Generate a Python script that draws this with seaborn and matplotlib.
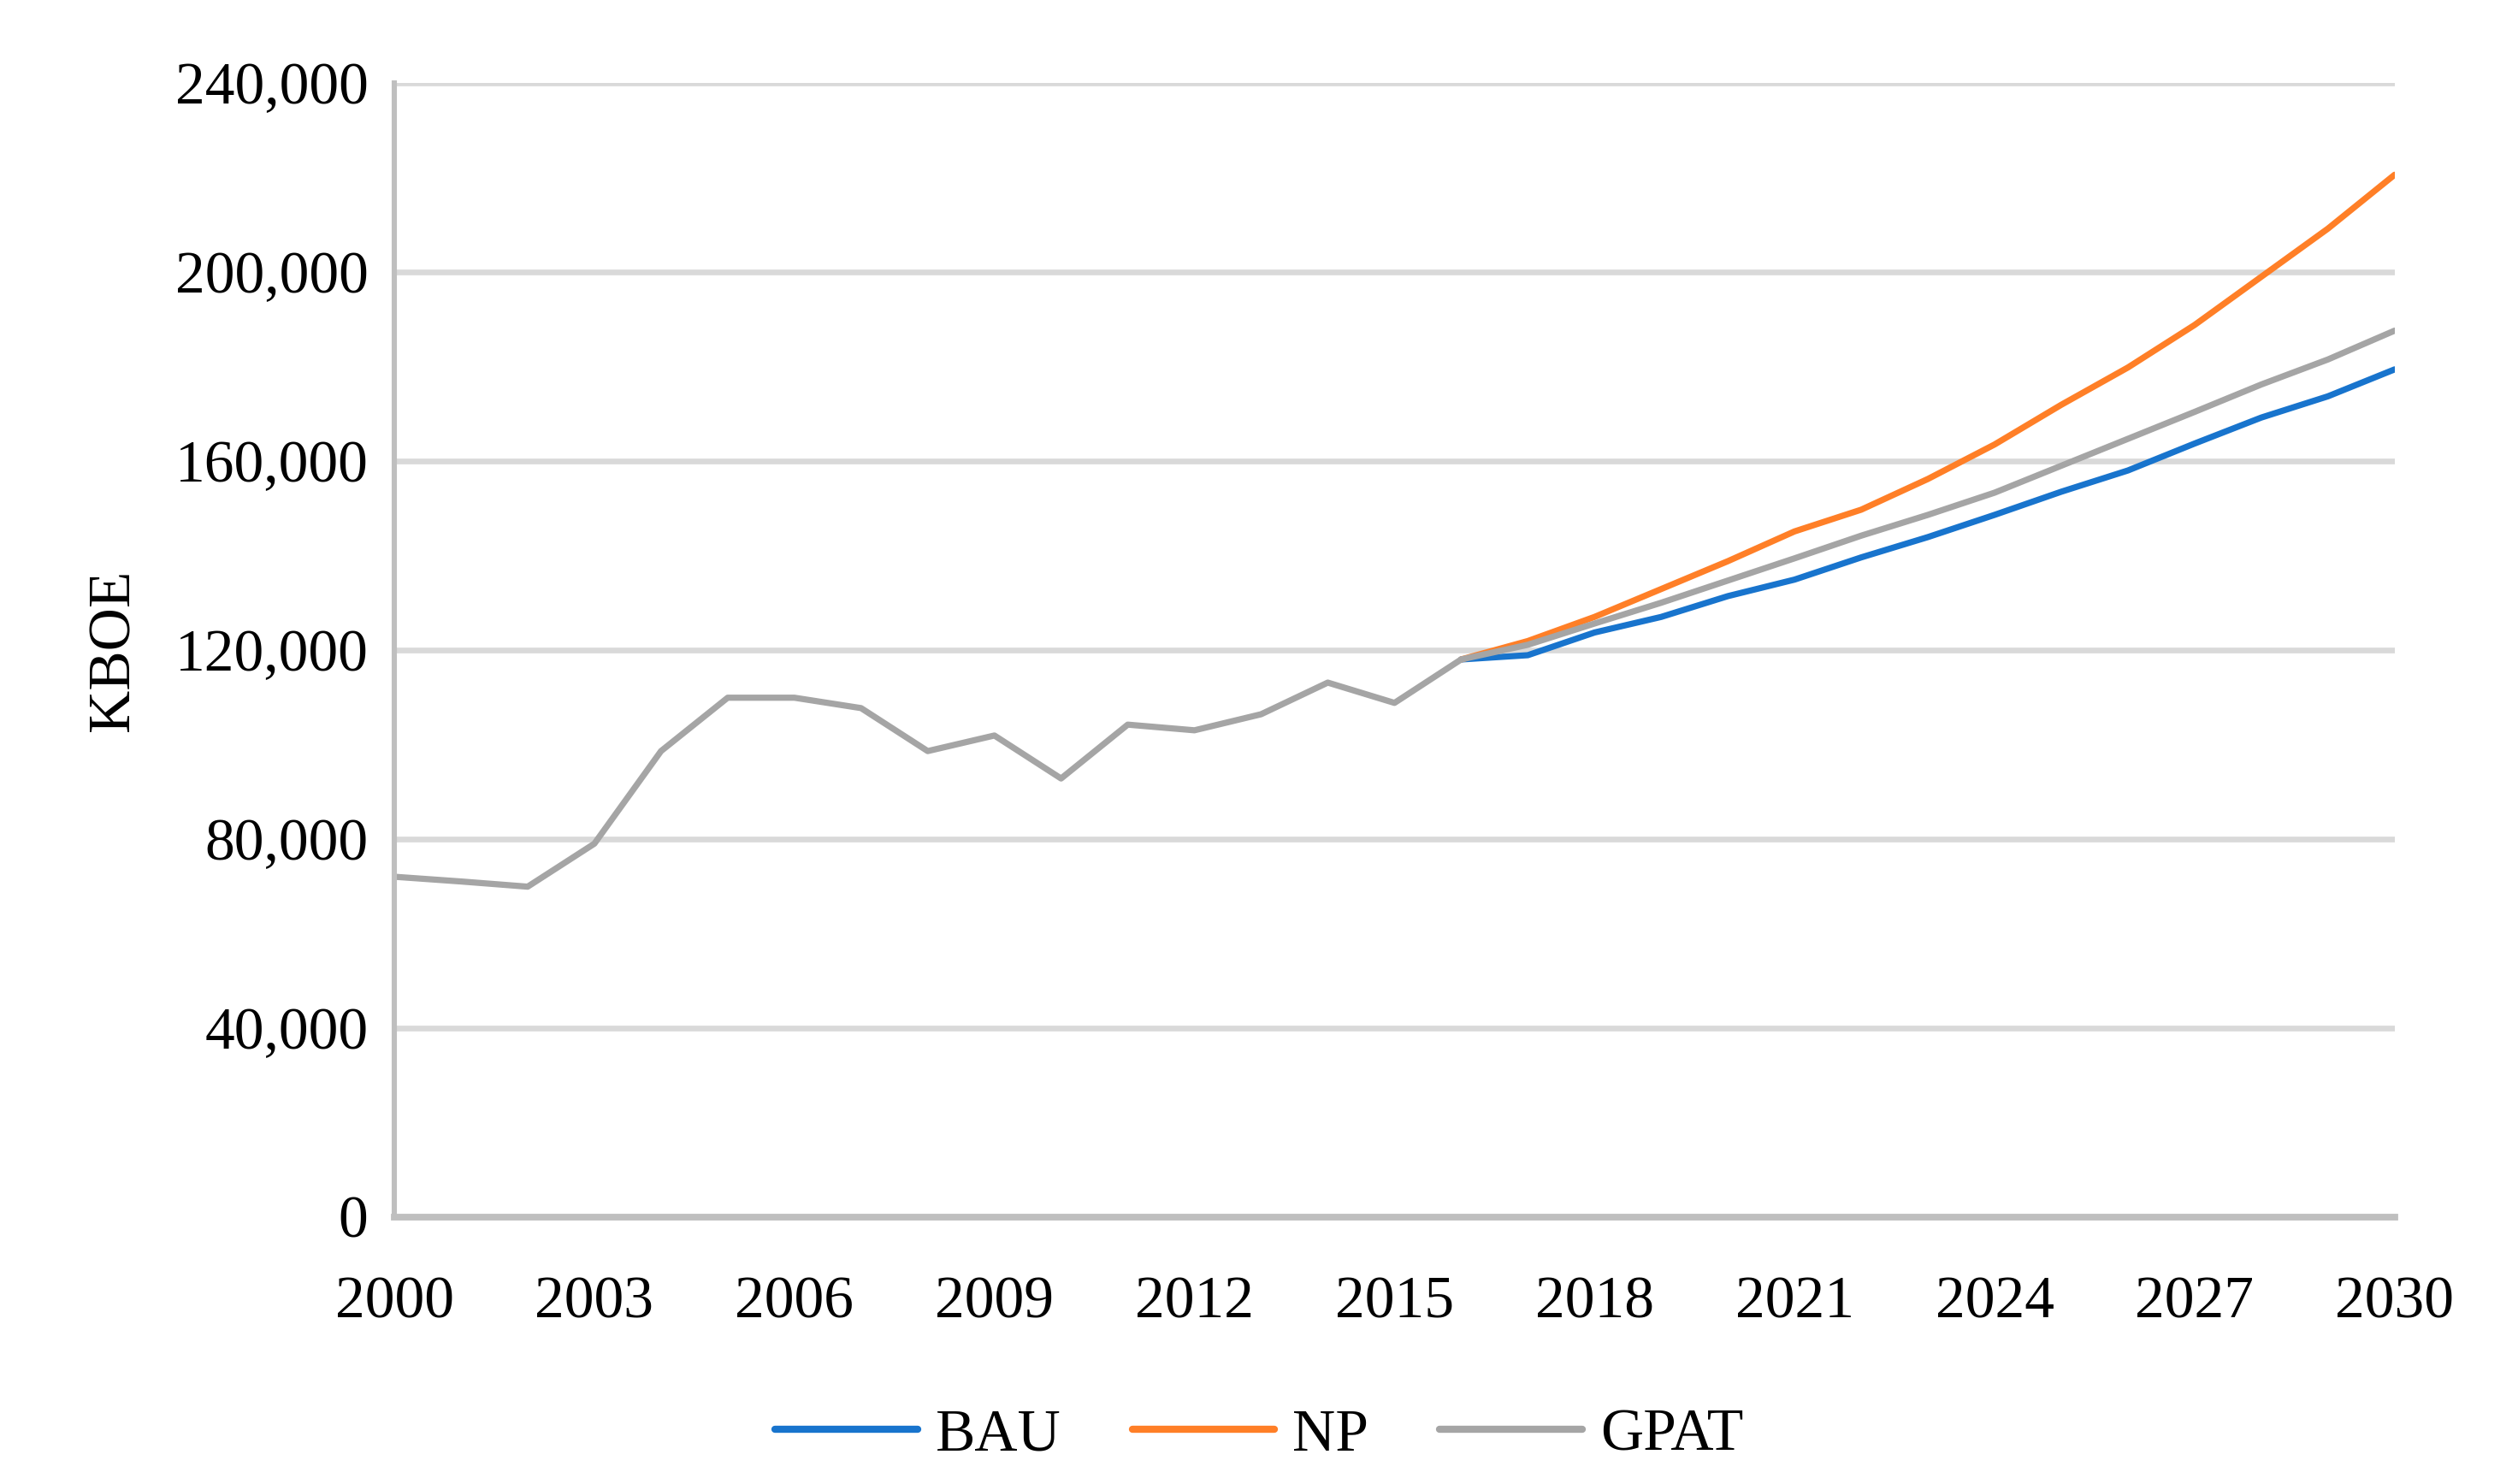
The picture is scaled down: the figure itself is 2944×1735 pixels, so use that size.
import matplotlib
matplotlib.use("Agg")
import matplotlib.pyplot as plt
import seaborn as sns
import pandas as pd
from matplotlib.ticker import FuncFormatter, FixedLocator

hist_years = list(range(2000, 2017))
hist_values = [72000, 71000, 69900, 79000, 98600, 109900, 109900, 107700, 98600,
               101900, 92800, 104200, 103000, 106400, 113100, 108800, 118000]

proj_years = list(range(2016, 2031))
bau_values = [118000, 118900, 123700, 127000, 131400, 134900, 139600, 143900,
              148600, 153500, 158000, 163700, 169200, 173700, 179400]
np_values = [118000, 121900, 127000, 132900, 138800, 145100, 149700, 156200,
             163500, 171900, 179800, 188800, 199000, 209200, 220600]
gpat_values = [118000, 121100, 125600, 130000, 134700, 139400, 144200, 148600,
               153300, 159000, 164700, 170400, 176200, 181500, 187600]

series_names = ["BAU", "NP", "GPAT"]
colors = {"BAU": "#1874CD", "NP": "#FF7F27", "GPAT": "#A5A5A5"}
x_ticks = list(range(2000, 2031, 3))
y_ticks = list(range(0, 240001, 40000))

rows = []
for y, v in zip(proj_years, bau_values):
    rows.append(("BAU", y, v))
for y, v in zip(proj_years, np_values):
    rows.append(("NP", y, v))
for y, v in zip(hist_years[:-1], hist_values[:-1]):
    rows.append(("GPAT", y, v))
for y, v in zip(proj_years, gpat_values):
    rows.append(("GPAT", y, v))
df = pd.DataFrame(rows, columns=["series", "year", "value"])

sns.set_theme(style="white")
plt.rcParams["font.family"] = ["Liberation Serif", "DejaVu Serif"]
plt.rcParams["text.color"] = "black"
plt.rcParams["axes.labelcolor"] = "black"

fig = plt.figure(figsize=(14.72, 8.675), dpi=200)
ax = fig.add_axes([0.1566, 0.180, 0.951 - 0.1566, 0.944 - 0.180])

sns.lineplot(data=df, x="year", y="value", hue="series", hue_order=series_names,
             palette=colors, linewidth=2.6, ax=ax, legend=True, sort=True,
             estimator=None)

ax.set_xlim(2000, 2030)
ax.set_ylim(0, 240000)
ax.xaxis.set_major_locator(FixedLocator(x_ticks))
ax.yaxis.set_major_locator(FixedLocator(y_ticks))
ax.yaxis.set_major_formatter(FuncFormatter(lambda v, p: f"{int(v):,}"))
ax.grid(axis="y", color="#D9D9D9", linewidth=2.4)
ax.grid(axis="x", visible=False)
ax.set_axisbelow(True)
for s in ["top", "right"]:
    ax.spines[s].set_visible(False)
ax.spines["left"].set_color("#BFBFBF")
ax.spines["left"].set_linewidth(2.2)
ax.spines["bottom"].set_color("#BFBFBF")
ax.spines["bottom"].set_linewidth(2.8)
ax.tick_params(axis="both", length=0, labelsize=25, colors="black")
ax.tick_params(axis="x", pad=25)
ax.tick_params(axis="y", pad=11)
ax.set_xlabel("")
ax.set_ylabel("KBOE", fontsize=25, labelpad=14, color="black")

handles, labels = ax.get_legend_handles_labels()
ax.get_legend().remove()
leg = fig.legend(handles, labels, loc="lower center", bbox_to_anchor=(0.5, -0.022),
                 ncol=3, frameon=False, fontsize=25, handlelength=2.4,
                 handletextpad=0.3, columnspacing=1.2, labelcolor="black")
for h in leg.get_lines():
    h.set_linewidth(3.0)

fig.savefig("out.png", dpi=200)
